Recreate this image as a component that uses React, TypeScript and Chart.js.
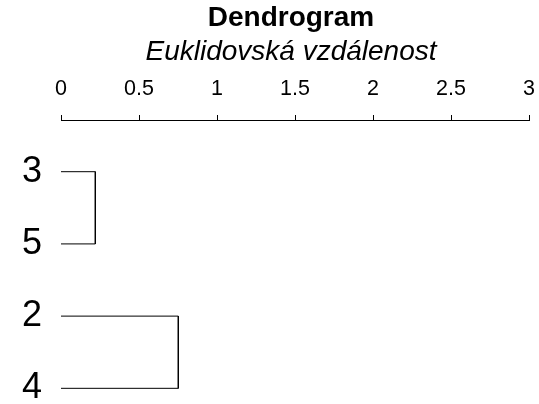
import React, { useEffect, useRef } from "react";
import { Chart, registerables } from "chart.js";

Chart.register(...registerables);

const leafLabels: string[] = ["3", "5", "2", "4"];
const mergeLeft: number[] = [0, 2];
const mergeRight: number[] = [1, 3];
const mergeHeights: number[] = [0.22, 0.752];
const xTickValues: number[] = [0, 0.5, 1, 1.5, 2, 2.5, 3];
const xTickLabels: string[] = ["0", "0.5", "1", "1.5", "2", "2.5", "3"];

const FONT = "'Liberation Sans', Arial, Helvetica, sans-serif";

export default function App() {
  const ref = useRef<HTMLCanvasElement | null>(null);

  useEffect(() => {
    document.body.style.margin = "0";
    if (!ref.current) return;

    const datasets = mergeHeights.map((h, k) => ({
      data: [
        { x: 0, y: mergeLeft[k] },
        { x: h, y: mergeLeft[k] },
        { x: h, y: mergeRight[k] },
        { x: 0, y: mergeRight[k] },
      ],
      showLine: true,
      borderColor: "#000000",
      borderWidth: 1,
      pointRadius: 0,
      fill: false,
      tension: 0,
    }));

    const chart = new Chart(ref.current, {
      type: "scatter",
      data: { datasets },
      options: {
        animation: false,
        responsive: false,
        maintainAspectRatio: false,
        layout: { padding: { left: 53, right: 10, top: 0, bottom: 6 } },
        plugins: {
          legend: { display: false },
          tooltip: { enabled: false },
          title: {
            display: true,
            text: "Dendrogram",
            color: "#000000",
            font: { family: FONT, size: 28, weight: "bold", lineHeight: 1.2 },
            padding: { top: 1.4, bottom: 0 },
          },
          subtitle: {
            display: true,
            text: "Euklidovská vzdálenost",
            color: "#000000",
            font: { family: FONT, size: 28, style: "italic", lineHeight: 1.2 },
            padding: { top: 0.2, bottom: 7.8 },
          },
        },
        scales: {
          x: {
            type: "linear",
            position: "top",
            min: 0,
            max: 3,
            afterBuildTicks: (scale: any) => {
              scale.ticks = xTickValues.map((v) => ({ value: v }));
            },
            afterFit: (scale: any) => {
              scale.height = 43.4;
              scale.paddingTop = 0;
              scale.paddingBottom = 0;
              scale.paddingLeft = 0;
              scale.paddingRight = 0;
            },
            ticks: {
              color: "#000000",
              font: { family: FONT, size: 21.5, lineHeight: 1.2 },
              padding: 12.9,
              maxRotation: 0,
              minRotation: 0,
              autoSkip: false,
              callback: (value: any) => {
                const i = xTickValues.indexOf(Number(value));
                return i >= 0 ? xTickLabels[i] : "";
              },
            },
            grid: {
              display: true,
              drawOnChartArea: false,
              drawTicks: true,
              tickLength: 5,
              tickColor: "#000000",
              color: "#000000",
            },
            border: { display: true, color: "#000000", width: 1 },
          },
          y: {
            type: "linear",
            reverse: true,
            min: -0.716,
            max: 3.134,
            afterBuildTicks: (scale: any) => {
              scale.ticks = leafLabels.map((_, i) => ({ value: i }));
            },
            afterFit: (scale: any) => {
              scale.width = 8;
              scale.paddingTop = 0;
              scale.paddingBottom = 0;
              scale.paddingLeft = 0;
              scale.paddingRight = 0;
            },
            ticks: {
              color: "#000000",
              font: { family: FONT, size: 36, lineHeight: 1.2 },
              mirror: true,
              padding: -39,
              autoSkip: false,
              callback: (value: any) => leafLabels[Number(value)] ?? "",
            },
            grid: { display: false, drawTicks: false },
            border: { display: false },
          },
        },
      },
    });

    return () => chart.destroy();
  }, []);

  return (
    <div style={{ width: 539, height: 404 }}>
      <canvas ref={ref} width={539} height={404} />
    </div>
  );
}
